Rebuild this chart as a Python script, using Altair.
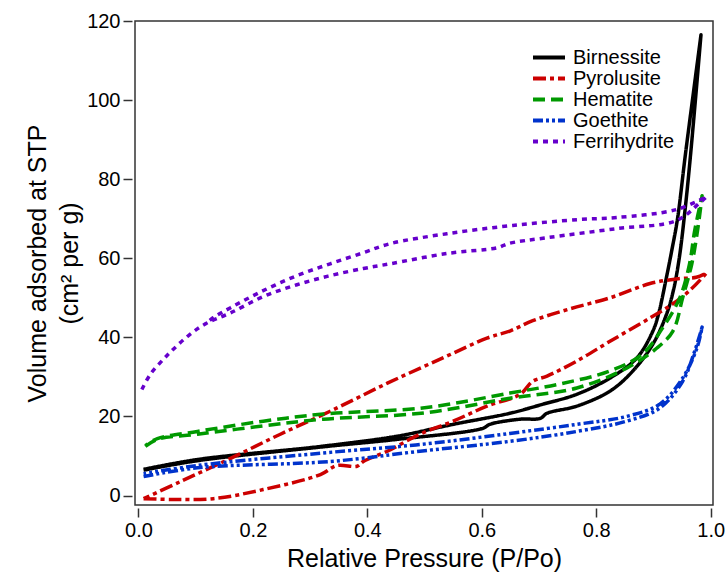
import altair as alt
import pandas as pd

SERIES = ["Birnessite", "Pyrolusite", "Hematite", "Goethite", "Ferrihydrite"]
COLORS = ["#000000", "#CC0000", "#009900", "#0033CC", "#6600CC"]
DASHES = [[1, 0], [13, 4, 4, 4], [12, 6], [10, 3, 3, 3, 3, 3], [5, 5]]

# Birnessite
BIR_ADS_X = [0.009, 0.103, 0.335, 0.452, 0.602, 0.614, 0.667, 0.702, 0.714, 0.766, 0.824, 0.864, 0.899, 0.923, 0.935, 0.945, 0.955, 0.965, 0.983]
BIR_ADS_Y = [6.4, 8.8, 12.5, 14.2, 17.0, 18.0, 19.3, 19.5, 20.8, 22.6, 26.4, 31.5, 38.3, 45.9, 52.0, 60.0, 72.0, 86.5, 116.5]
BIR_DES_X = [0.983, 0.956, 0.942, 0.932, 0.921, 0.909, 0.899, 0.871, 0.824, 0.766, 0.707, 0.649, 0.550, 0.452, 0.318, 0.103, 0.009]
BIR_DES_Y = [116.5, 86.5, 70.0, 62.0, 54.0, 46.0, 41.6, 34.8, 29.7, 25.6, 23.1, 20.8, 18.0, 15.0, 12.4, 9.1, 6.6]

# Pyrolusite
PYR_ADS_X = [0.009, 0.061, 0.131, 0.218, 0.318, 0.347, 0.382, 0.393, 0.435, 0.492, 0.550, 0.609, 0.667, 0.689, 0.714, 0.766, 0.824, 0.894, 0.934, 0.963, 0.993]
PYR_ADS_Y = [-0.8, -1.0, -0.8, 1.5, 5.3, 7.6, 7.4, 8.6, 11.2, 15.5, 18.8, 22.6, 25.6, 28.9, 30.2, 34.0, 39.0, 44.9, 48.5, 51.8, 56.3]
PYR_DES_X = [0.993, 0.975, 0.941, 0.894, 0.824, 0.754, 0.689, 0.649, 0.609, 0.532, 0.435, 0.335, 0.248, 0.161, 0.073, 0.009]
PYR_DES_Y = [56.3, 55.2, 54.8, 53.6, 50.0, 47.2, 44.2, 41.6, 39.8, 34.8, 28.4, 21.3, 15.5, 9.4, 3.5, -0.8]

# Hematite
HEM_ADS_X = [0.012, 0.033, 0.103, 0.218, 0.323, 0.500, 0.649, 0.766, 0.853, 0.906, 0.934, 0.951, 0.967, 0.977, 0.985]
HEM_ADS_Y = [12.4, 14.2, 15.5, 17.6, 19.3, 20.9, 24.6, 27.2, 32.2, 37.3, 41.6, 50.0, 58.6, 67.0, 75.8]
HEM_DES_X = [0.985, 0.972, 0.963, 0.946, 0.916, 0.881, 0.824, 0.736, 0.649, 0.500, 0.323, 0.218, 0.103, 0.033, 0.012]
HEM_DES_Y = [75.8, 67.0, 58.6, 50.0, 42.4, 35.8, 31.5, 28.2, 25.9, 22.2, 20.6, 18.8, 16.2, 14.4, 12.6]

# Goethite
GOE_ADS_X = [0.009, 0.103, 0.335, 0.492, 0.649, 0.766, 0.853, 0.911, 0.951, 0.972, 0.985]
GOE_ADS_Y = [4.8, 7.0, 8.6, 11.2, 13.7, 16.2, 18.8, 22.1, 28.9, 36.5, 42.6]
GOE_DES_X = [0.985, 0.976, 0.951, 0.911, 0.853, 0.766, 0.649, 0.492, 0.318, 0.103, 0.009]
GOE_DES_Y = [42.6, 37.3, 29.7, 23.1, 20.0, 18.0, 15.7, 12.9, 10.7, 7.6, 5.5]

# Ferrihydrite
FER_ADS_X = [0.006, 0.021, 0.044, 0.061, 0.087, 0.117, 0.161, 0.218, 0.277, 0.335, 0.393, 0.440, 0.539, 0.628, 0.646, 0.714, 0.836, 0.940, 0.980, 0.993]
FER_ADS_Y = [26.8, 30.7, 34.5, 37.0, 40.4, 43.4, 46.2, 50.3, 53.3, 55.6, 57.4, 58.6, 61.2, 62.7, 63.7, 65.2, 67.5, 69.5, 73.9, 75.6]
FER_DES_X = [0.993, 0.940, 0.836, 0.771, 0.654, 0.539, 0.440, 0.393, 0.335, 0.277, 0.218, 0.161, 0.131, 0.117]
FER_DES_Y = [75.6, 72.3, 70.3, 69.8, 68.3, 66.2, 63.7, 61.4, 58.6, 55.6, 51.8, 47.5, 45.0, 43.4]

X_TICKS = [0.0, 0.2, 0.4, 0.6, 0.8, 1.0]
Y_TICKS = [0, 20, 40, 60, 80, 100, 120]

branches = {
    "Birnessite": (BIR_ADS_X + BIR_DES_X, BIR_ADS_Y + BIR_DES_Y),
    "Pyrolusite": (PYR_ADS_X + PYR_DES_X, PYR_ADS_Y + PYR_DES_Y),
    "Hematite": (HEM_ADS_X + HEM_DES_X, HEM_ADS_Y + HEM_DES_Y),
    "Goethite": (GOE_ADS_X + GOE_DES_X, GOE_ADS_Y + GOE_DES_Y),
    "Ferrihydrite": (FER_ADS_X + FER_DES_X, FER_ADS_Y + FER_DES_Y),
}

rows = []
for s, (xs, ys) in branches.items():
    for i, (xv, yv) in enumerate(zip(xs, ys)):
        rows.append({"series": s, "idx": i, "x": xv, "y": yv})
df = pd.DataFrame(rows)

FONT = "Liberation Sans"

color_scale = alt.Scale(domain=SERIES, range=COLORS)
dash_scale = alt.Scale(domain=SERIES, range=DASHES)
legend = alt.Legend(
    title=None, orient="none", legendX=396, legendY=26,
    symbolType="stroke", symbolStrokeWidth=4, symbolSize=1024,
    labelFont=FONT, labelFontSize=20, labelColor="black",
    labelOffset=6, rowPadding=0, clipHeight=21, padding=0,
)

x_enc = alt.X("x:Q", scale=alt.Scale(domain=[-0.006, 1.004], nice=False, zero=False),
              axis=alt.Axis(values=X_TICKS, format=".1f", title="Relative Pressure (P/Po)"))
y_enc = alt.Y("y:Q", scale=alt.Scale(domain=[-2.4, 120], nice=False, zero=False),
              axis=alt.Axis(values=Y_TICKS, format="d",
                            title=["Volume adsorbed at STP", "(cm² per g)"]))

layers = []
for s in SERIES:
    layers.append(
        alt.Chart(df)
        .transform_filter(alt.datum.series == s)
        .mark_line(strokeWidth=3.5, strokeCap="butt", strokeJoin="round", clip=True,
                   interpolate="catmull-rom")
        .encode(
            x=x_enc, y=y_enc, order="idx:Q",
            color=alt.Color("series:N", scale=color_scale, legend=legend),
            strokeDash=alt.StrokeDash("series:N", scale=dash_scale, legend=legend),
        )
    )

chart = (
    alt.layer(*layers)
    .properties(width=578, height=484, autosize=alt.AutoSizeParams(type="none"),
                padding={"left": 135, "top": 21, "right": 13, "bottom": 69})
    .configure_view(stroke="#333333", strokeWidth=1.5)
    .configure_axis(
        labelFont=FONT, labelFontSize=20, labelColor="black",
        titleFont=FONT, titleFontSize=25, titleColor="black", titleFontWeight="normal",
        domain=False, grid=False, tickColor="#333333", tickWidth=1.5, tickSize=9,
        offset=3, labelPadding=3,
    )
    .configure_axisX(titlePadding=6)
    .configure_axisY(titlePadding=4, titleLineHeight=32)
)

chart.save("out.html", embed_options={"renderer": "svg", "actions": False})
